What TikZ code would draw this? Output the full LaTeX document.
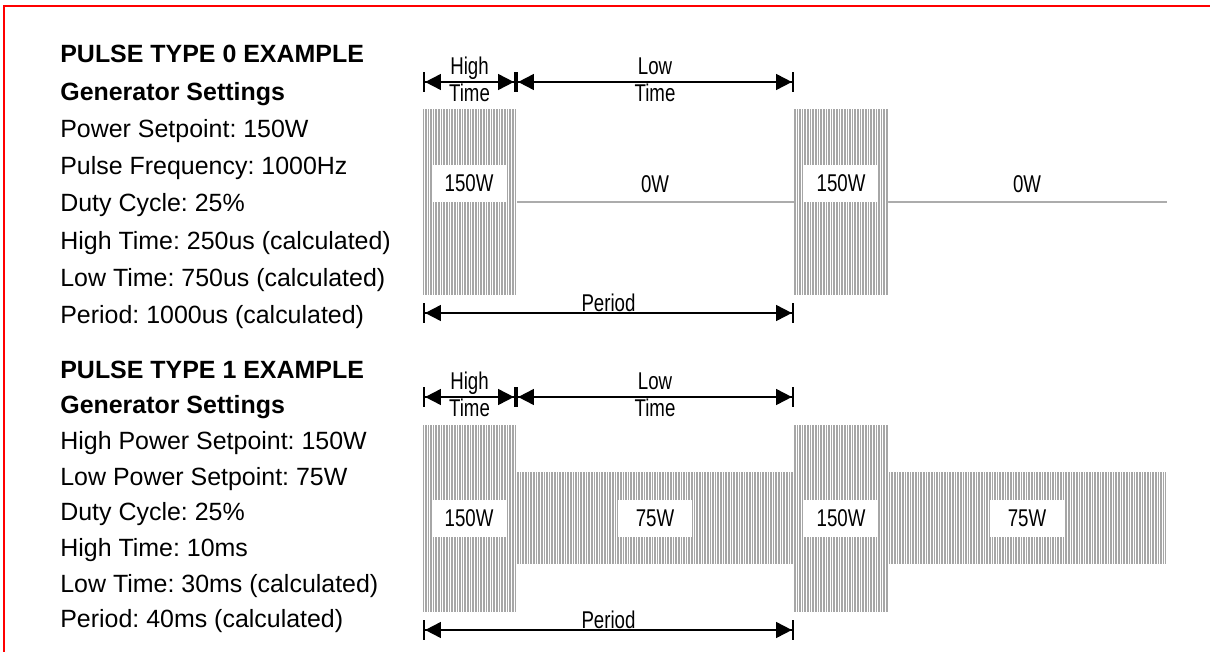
\documentclass[tikz,border=0pt]{standalone}
\usepackage{fontspec}
\setmainfont{Liberation Sans}
\newfontfamily\narrowsans[FakeStretch=0.77]{Liberation Sans}
\usetikzlibrary{arrows.meta,patterns.meta}
\frenchspacing

\tikzset{
  hatch/.style={fill=gray!70, postaction={pattern={Lines[angle=90,distance=1.5pt,line width=0.45pt]}, pattern color=white}},
  wattbox/.style={fill=white, inner sep=0pt, minimum width=1.48cm, minimum height=0.74cm, font=\narrowsans\fontsize{13.8}{15}\selectfont},
  wattlbl/.style={inner sep=0pt, font=\narrowsans\fontsize{13.8}{15}\selectfont},
  dimline/.style={line width=1.1pt,
    {Bar[width=11pt,line width=1.2pt]Triangle[length=9pt,width=9pt]}-{Triangle[length=9pt,width=9pt]Bar[width=11pt,line width=1.2pt]}},
  dimtop/.style={anchor=base, inner sep=0pt, yshift=4pt, font=\narrowsans\fontsize{13.8}{15}\selectfont},
  dimbot/.style={anchor=base, inner sep=0pt, yshift=-11.3pt, font=\narrowsans\fontsize{13.8}{15}\selectfont},
  dimper/.style={anchor=base, inner sep=0pt, yshift=1.1pt, font=\narrowsans\fontsize{13.8}{15}\selectfont},
  zeroline/.style={draw=gray!65, line width=0.85pt},
  settxt/.style={anchor=base west, inner sep=0pt, font=\fontsize{14.2}{17}\selectfont}
}

\begin{document}
\begin{tikzpicture}[x=0.02cm, y=-0.02cm]
  \useasboundingbox (0,0) rectangle (1210,652);
  \draw[red, line width=1.1pt] (4,652) -- (4,6) -- (1210,6);

  % settings text
  \foreach \txt [count=\i from 0] in {\textbf{PULSE TYPE 0 EXAMPLE}, \textbf{Generator Settings},
      Power Setpoint: 150W, Pulse Frequency: 1000Hz, Duty Cycle: 25\%,
      High Time: 250us (calculated), Low Time: 750us (calculated), Period: 1000us (calculated)}
    \node[settxt] (ta\i) at (60, 63+37.2*\i) {\txt};
  \foreach \txt [count=\i from 0] in {\textbf{PULSE TYPE 1 EXAMPLE}, \textbf{Generator Settings},
      High Power Setpoint: 150W, Low Power Setpoint: 75W, Duty Cycle: 25\%,
      High Time: 10ms, Low Time: 30ms (calculated), Period: 40ms (calculated)}
    \node[settxt] (tb\i) at (60, 378+35.7*\i) {\txt};

  % type 0 waveform
  \draw[zeroline] (516,202) -- (794,202);
  \draw[zeroline] (888,202) -- (1167,202);
  \foreach \x in {423,794} \path[hatch] (\x,109) rectangle (\x+94,295);
  \node[wattbox] (pa1) at (469,183.5) {150W};
  \node[wattlbl] (pa2) at (655,184) {0W};
  \node[wattbox] (pa3) at (841,183.5) {150W};
  \node[wattlbl] (pa4) at (1027,184) {0W};

  \coordinate (a0) at (423,82);
  \coordinate (a1) at (516,82);
  \coordinate (a2) at (794,82);
  \coordinate (a3) at (423,313);
  \coordinate (a4) at (794,313);
  \draw[dimline] (a0) -- (a1) node[midway, dimtop] (ah1) {High} node[midway, dimbot] (ah2) {Time};
  \draw[dimline] (a1) -- (a2) node[midway, dimtop] (al1) {Low} node[midway, dimbot] (al2) {Time};
  \draw[dimline] (a3) -- (a4) node[midway, dimper] (ap) {Period};

  % type 1 waveform
  \path[hatch] (516,472) rectangle (794,564);
  \path[hatch] (888,472) rectangle (1166,564);
  \foreach \x in {423,794} \path[hatch] (\x,425) rectangle (\x+94,612);
  \node[wattbox] (pb1) at (469,518) {150W};
  \node[wattbox] (pb2) at (655,518) {75W};
  \node[wattbox] (pb3) at (841,518) {150W};
  \node[wattbox] (pb4) at (1027,518) {75W};

  \coordinate (b0) at (423,397);
  \coordinate (b1) at (516,397);
  \coordinate (b2) at (794,397);
  \coordinate (b3) at (423,630);
  \coordinate (b4) at (794,630);
  \draw[dimline] (b0) -- (b1) node[midway, dimtop] (bh1) {High} node[midway, dimbot] (bh2) {Time};
  \draw[dimline] (b1) -- (b2) node[midway, dimtop] (bl1) {Low} node[midway, dimbot] (bl2) {Time};
  \draw[dimline] (b3) -- (b4) node[midway, dimper] (bp) {Period};
\end{tikzpicture}
\end{document}
